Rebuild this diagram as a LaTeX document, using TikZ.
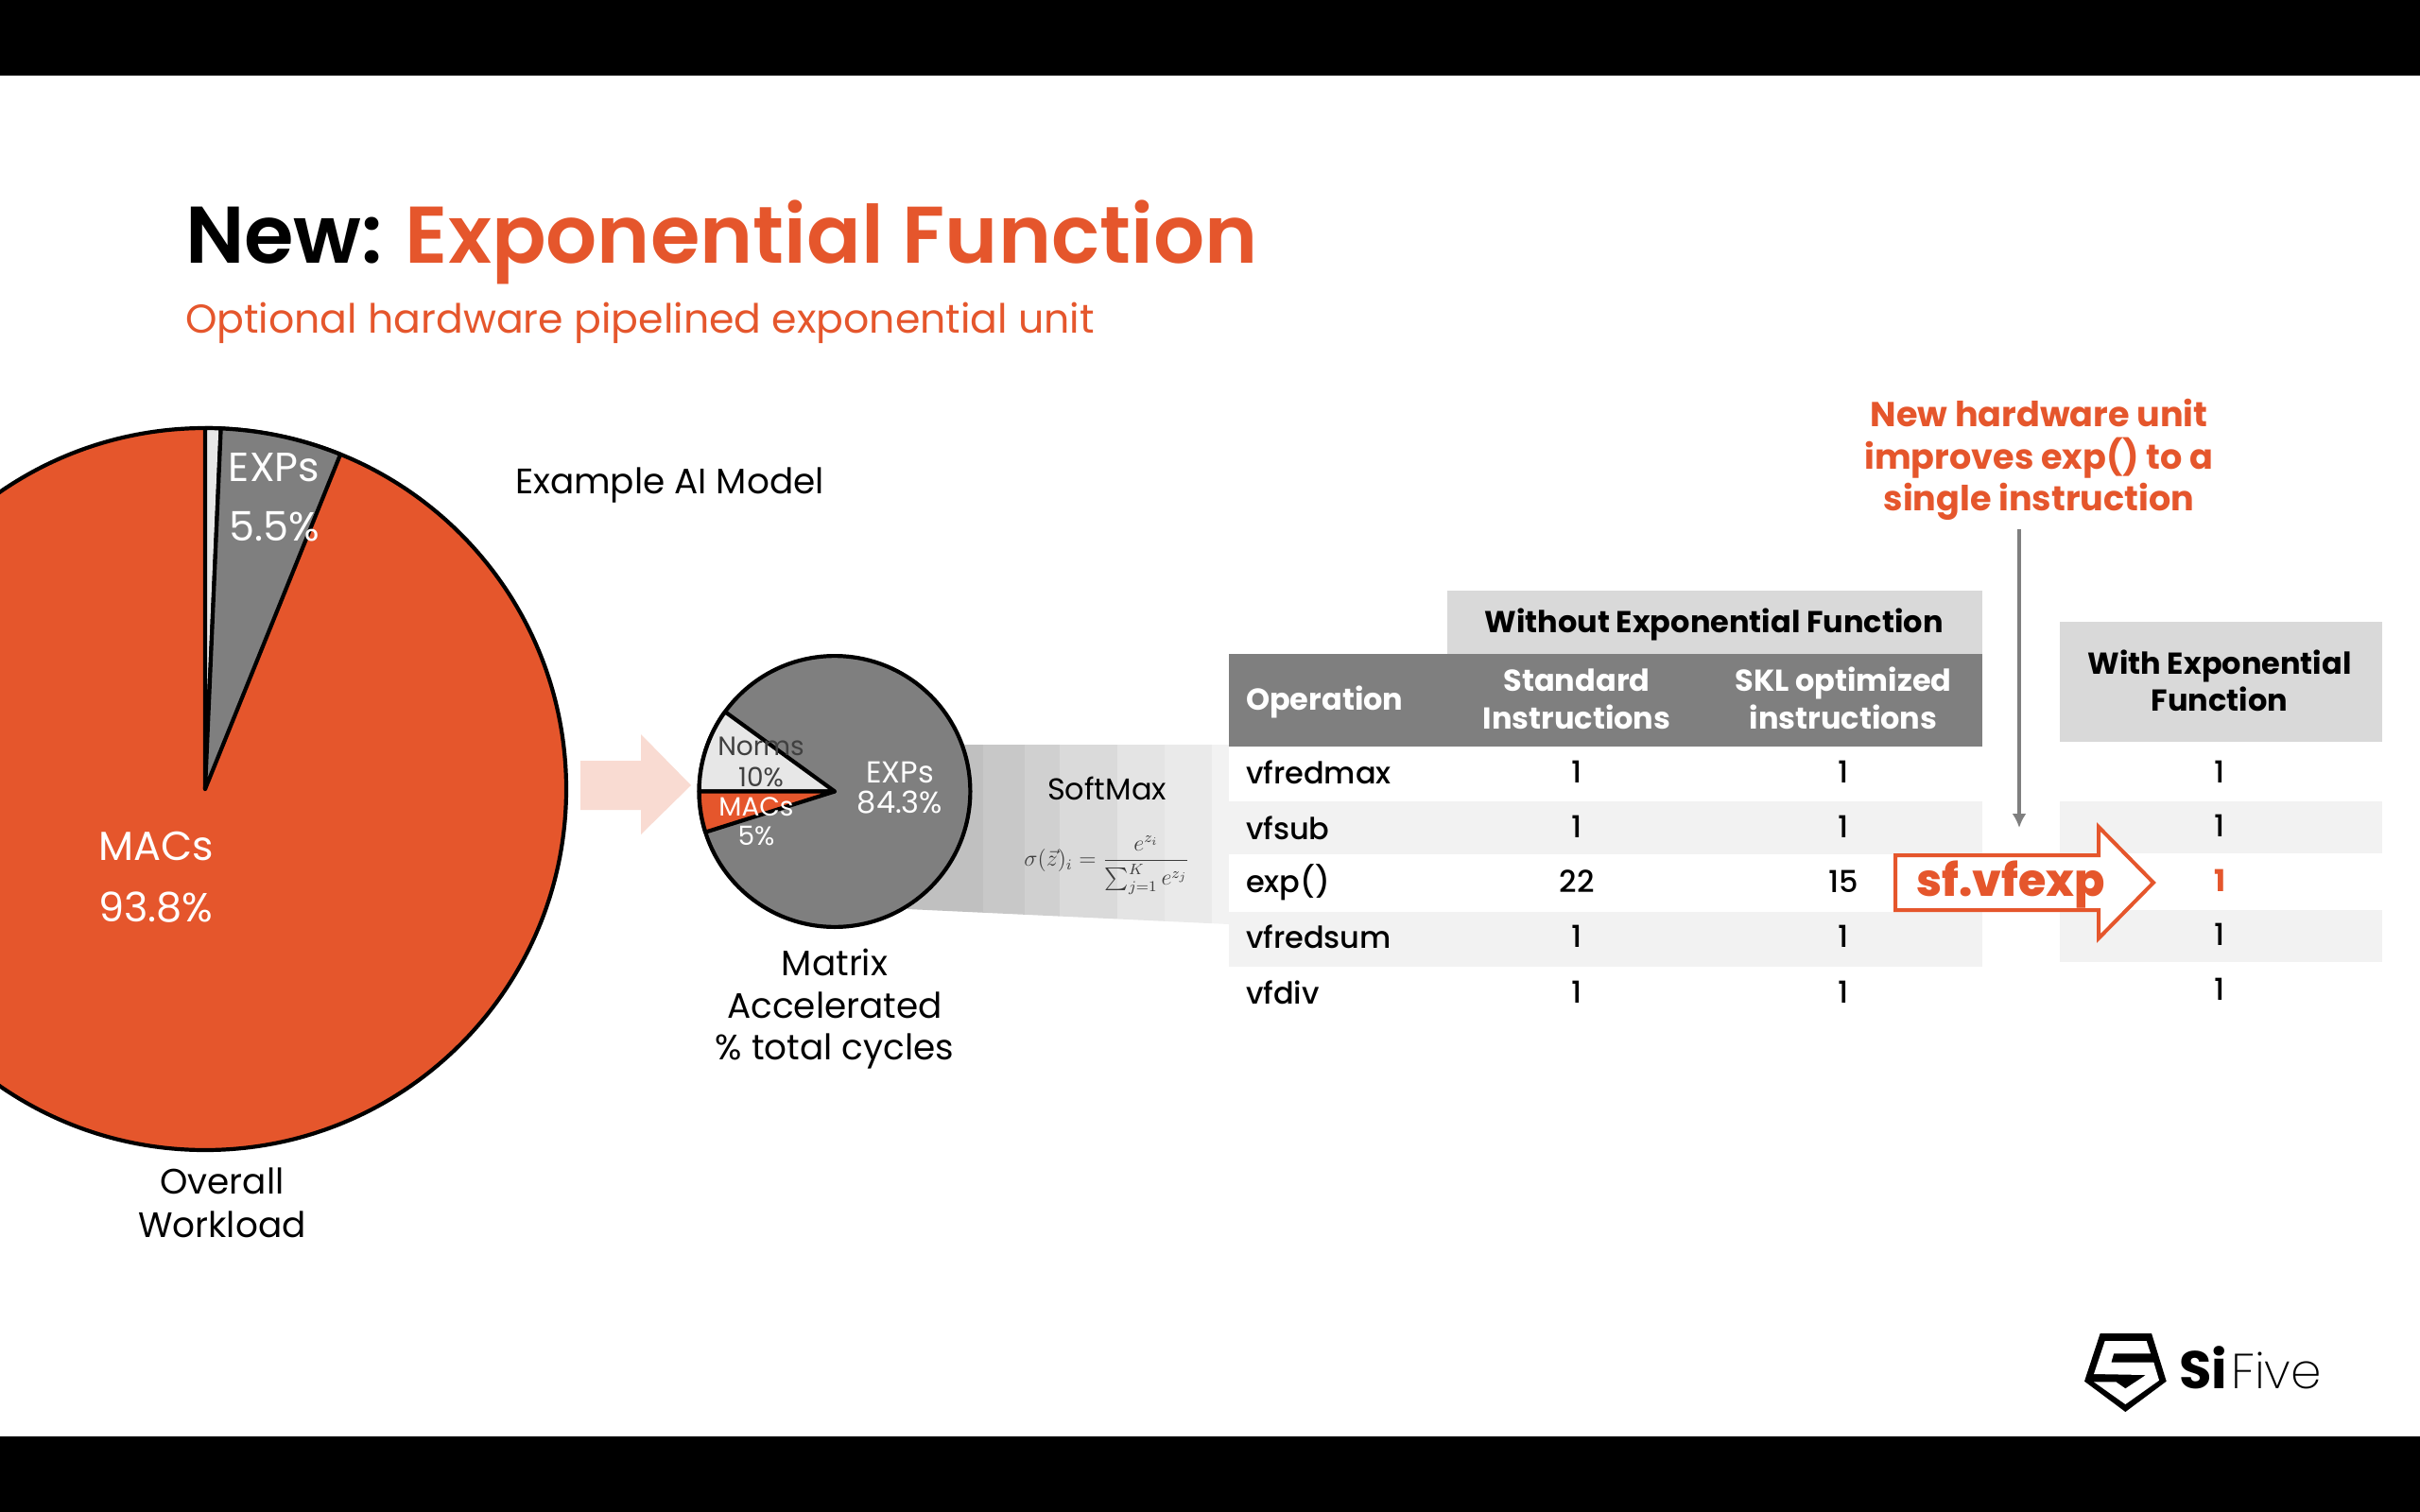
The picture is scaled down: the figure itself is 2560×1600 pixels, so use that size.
\documentclass[tikz,border=0pt]{standalone}
\usetikzlibrary{arrows.meta}
\usepackage{fontspec}
\usepackage{amsmath}
\setmainfont{Poppins}
\newfontfamily\popsb{Poppins SemiBold}
\newfontfamily\popm{Poppins Medium}
\newfontfamily\popl{Poppins ExtraLight}
\newfontfamily\popx{Poppins ExtraBold}
\definecolor{sforange}{HTML}{E5562C}
\definecolor{sfgray}{HTML}{7F7F7F}
\definecolor{sflight}{HTML}{D9D9D9}
\definecolor{sfrow}{HTML}{F2F2F2}
\definecolor{sfpink}{HTML}{F9DBD2}
\definecolor{sfnorm}{HTML}{E7E7E7}
\newcommand\fs[1]{\fontsize{#1}{#1}\selectfont}
\tikzset{
  pieline/.style={draw=black,line width=2.1pt,line join=round},
  lab/.style={inner sep=0pt,outer sep=0pt,align=center},
  cell/.style={lab,font=\popm\fs{16}},
  cellleft/.style={lab,anchor=west,font=\popm\fs{16}},
  thead/.style={lab,font=\bfseries\fs{16},text=white},
  thblack/.style={lab,font=\bfseries\fs{16},text=black},
}
\begin{document}
\begin{tikzpicture}[x=0.5pt,y=-0.5pt]
\useasboundingbox (0,0) rectangle (2560,1600);
\clip (0,0) rectangle (2560,1600);
\fill[white] (0,0) rectangle (2560,1600);
\fill[black] (0,0) rectangle (2560,80);
\fill[black] (0,1520) rectangle (2560,1600);

% title
\node[lab,anchor=base west,font=\popsb\fs{42.5}] (title) at (196,278) {New:\hspace{-1.5pt} \textcolor{sforange}{Exponential Function}};
\node[lab,anchor=base west,font=\fs{21.3},text=sforange] (subtitle) at (196,352) {Optional hardware pipelined exponential unit};

% big pie
\coordinate (bc) at (217,835);
\path[fill=sforange,pieline] (bc) circle[radius=191pt];
\path[fill=sfnorm,pieline] (bc) -- ++(90:191pt) arc[start angle=90,end angle=87.5,radius=191pt] -- cycle;
\path[fill=sfgray,pieline] (bc) -- ++(87.5:191pt) arc[start angle=87.5,end angle=68,radius=191pt] -- cycle;
\node[lab,font=\fs{21.5},text=white] (bigexp) at (290,495) {EXPs};
\node[lab,font=\fs{21.5},text=white] (bigexpv) at (290,557) {5.5\%};
\node[lab,font=\fs{21.5},text=white] (bigmac) at (165,896) {MACs};
\node[lab,font=\fs{21.5},text=white] (bigmacv) at (165,960) {93.8\%};
\node[lab,font=\fs{18.7}] (overall) at (235,1250) {Overall};
\node[lab,font=\fs{18.7}] (workload) at (235,1296) {Workload};
\node[lab,anchor=west,font=\fs{18.7}] (model) at (545,514) {Example AI Model};

% pink arrow
\fill[sfpink] (614,805) -- (678,805) -- (678,777) -- (731,831) -- (678,883) -- (678,857) -- (614,857) -- cycle;

% softmax band
\begin{scope}
\clip (960,788) -- (1300,788) -- (1300,978) -- (960,962) -- cycle;
\fill[fill={rgb,255:red,192;green,192;blue,192}] (960,780) rectangle (1040,990);
\fill[fill={rgb,255:red,200;green,200;blue,200}] (1040,780) rectangle (1084,990);
\fill[fill={rgb,255:red,208;green,208;blue,208}] (1084,780) rectangle (1121,990);
\fill[fill={rgb,255:red,218;green,218;blue,218}] (1121,780) rectangle (1182,990);
\fill[fill={rgb,255:red,228;green,228;blue,228}] (1182,780) rectangle (1232,990);
\fill[fill={rgb,255:red,234;green,234;blue,234}] (1232,780) rectangle (1282,990);
\fill[fill={rgb,255:red,242;green,242;blue,242}] (1282,780) rectangle (1300,990);
\end{scope}
\node[lab,font=\fs{16}] (softmax) at (1171,834) {SoftMax};
\node[lab,text={rgb,255:red,60;green,60;blue,60},font=\fs{12}] (formula) at (1171,916) {$\displaystyle\sigma(\vec{z})_i=\frac{e^{z_i}}{\sum\nolimits_{j=1}^{K} e^{z_j}}$};

% small pie
\coordinate (sc) at (883,837.5);
\path[fill=sfgray,pieline] (sc) circle[radius=71.7pt];
\path[fill=sfnorm,pieline] (sc) -- ++(144:71.7pt) arc[start angle=144,end angle=180,radius=71.7pt] -- cycle;
\path[fill=sforange,pieline] (sc) -- ++(180:71.7pt) arc[start angle=180,end angle=197.5,radius=71.7pt] -- cycle;
\node[lab,font=\fs{14},text={rgb,255:red,64;green,64;blue,64}] (normn) at (805,790) {Norms};
\node[lab,font=\fs{14},text={rgb,255:red,64;green,64;blue,64}] (normv) at (805,822) {10\%};
\node[lab,font=\fs{14},text=white] (macn) at (800,854) {MACs};
\node[lab,font=\fs{14},text=white] (macv) at (800,885) {5\%};
\node[lab,font=\fs{16},text=white] (expn) at (952,817) {EXPs};
\node[lab,font=\fs{16},text=white] (expv) at (952,849) {84.3\%};
\node[lab,font=\fs{18.7}] (m1) at (883,1018) {Matrix};
\node[lab,font=\fs{18.7}] (m2) at (883,1064) {Accelerated};
\node[lab,font=\fs{18.7}] (m3) at (883,1112) {\% total cycles};

% left table
\fill[sflight] (1531,625) rectangle (2097,692);
\fill[sfgray] (1300,692) rectangle (2097,790);
\fill[sfrow] (1300,848) rectangle (2097,904);
\fill[sfrow] (1300,965) rectangle (2097,1023);
\node[thblack] (h0) at (1813,661) {Without Exponential Function};
\node[thead,anchor=west] (h1) at (1318,743) {Operation};
\node[thead] (h2) at (1668,720) {Standard};
\node[thead] (h2b) at (1668,759) {Instructions};
\node[thead] (h3) at (1950,723) {SKL optimized};
\node[thead] (h3b) at (1950,759) {instructions};
\node[cellleft] (o1) at (1318,817) {vfredmax};
\node[cellleft] (o2) at (1318,876) {vfsub};
\node[cellleft] (o3) at (1318,934) {exp()};
\node[cellleft] (o4) at (1318,991) {vfredsum};
\node[cellleft] (o5) at (1318,1050) {vfdiv};
\node[cell] (a1) at (1668,817) {1};
\node[cell] (a2) at (1668,875) {1};
\node[cell] (a3) at (1668,933) {22};
\node[cell] (a4) at (1668,991) {1};
\node[cell] (a5) at (1668,1050) {1};
\node[cell] (b1) at (1950,817) {1};
\node[cell] (b2) at (1950,875) {1};
\node[cell] (b3) at (1950,933) {15};
\node[cell] (b4) at (1950,991) {1};
\node[cell] (b5) at (1950,1050) {1};

% right table
\fill[sflight] (2179,658) rectangle (2520,785);
\fill[sfrow] (2179,848) rectangle (2520,903);
\fill[sfrow] (2179,963) rectangle (2520,1018);
\node[thblack] (r0) at (2348,705) {With Exponential};
\node[thblack] (r0b) at (2348,740) {Function};
\node[cell] (c1) at (2348,817) {1};
\node[cell] (c2) at (2348,874) {1};
\node[cell] (c4) at (2348,989) {1};
\node[cell] (c5) at (2348,1047) {1};

% callout
\node[lab,font=\bfseries\fs{18.3},text=sforange] (n1) at (2157,437) {New hardware unit};
\node[lab,font=\bfseries\fs{18.3},text=sforange] (n2) at (2157,485) {improves exp() to a};
\node[lab,font=\bfseries\fs{18.3},text=sforange] (n3) at (2157,531) {single instruction};
\coordinate (ga) at (2136,560);
\coordinate (gb) at (2136,876);
\draw[sfgray,line width=2pt,-{Latex[length=7.5pt,width=7.5pt]}] (ga) -- (gb);

% orange arrow
\path[fill=white,draw=sforange,line width=2pt,miter limit=10] (2005,905) -- (2220,905) -- (2220,875) -- (2278,934) -- (2220,993) -- (2220,963) -- (2005,963) -- cycle;
\node[lab,font=\popx\fs{23.8},text=sforange] (vf) at (2127,936) {sf.vfexp};
\node[lab,font=\bfseries\fs{16},text=sforange] (c3) at (2348,932) {1};

% logo
\begin{scope}[shift={(2160,1380)},x=0.1667pt,y=-0.1667pt]
\fill[black] (185,93) -- (348,93) -- (395,245) -- (265,342) -- (135,245) -- cycle;
\fill[white] (200,117) -- (332,117) -- (345,157) -- (228,157) -- (220,185) -- (355,185) -- (372,242) -- (265,318) -- (165,247) -- (235,247) -- (265,268) -- (330,225) -- (165,222) -- cycle;
\end{scope}
\node[lab,anchor=base west,font=\bfseries\fs{28}] (logosi) at (2305,1469) {Si};
\node[lab,anchor=base west,font=\popl\fs{26}] (logofive) at (2360,1469) {Five};
\end{tikzpicture}
\end{document}
